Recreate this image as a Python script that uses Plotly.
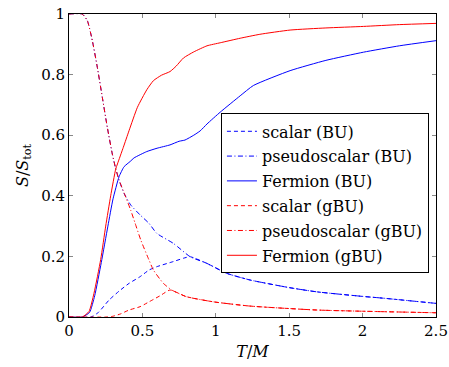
import plotly.graph_objects as go

# Fermion (gBU)
T_ferm_gbu = [0, 0.09, 0.136, 0.17, 0.216, 0.25, 0.284, 0.318, 0.33, 0.37, 0.409, 0.466, 0.53, 0.575,
              0.63, 0.688, 0.73, 0.78, 0.85, 0.94, 1.03, 1.166, 1.3, 1.506, 1.75, 2.006, 2.25, 2.5]
S_ferm_gbu = [0, 0, 0.018, 0.078, 0.19, 0.30, 0.40, 0.488, 0.505, 0.56, 0.615, 0.692, 0.75, 0.78,
              0.798, 0.81, 0.828, 0.855, 0.875, 0.895, 0.905, 0.92, 0.933, 0.947, 0.954, 0.959, 0.965, 0.969]

# Fermion (BU)
T_ferm_bu = [0, 0.09, 0.14, 0.175, 0.22, 0.265, 0.30, 0.341, 0.375, 0.416, 0.443, 0.53, 0.6, 0.688,
             0.75, 0.79, 0.85, 0.893, 0.94, 1.03, 1.166, 1.256, 1.506, 1.75, 2.006, 2.25, 2.5]
S_ferm_bu = [0, 0, 0.015, 0.07, 0.18, 0.30, 0.39, 0.463, 0.496, 0.513, 0.525, 0.546, 0.557, 0.568,
             0.58, 0.584, 0.60, 0.614, 0.637, 0.676, 0.73, 0.764, 0.813, 0.847, 0.874, 0.895, 0.912]

# pseudoscalar (BU)
T_ps_bu = [0, 0.09, 0.125, 0.159, 0.193, 0.227, 0.261, 0.295, 0.318, 0.341, 0.375, 0.42, 0.484, 0.545,
           0.598, 0.711, 0.825, 0.939, 1.075, 1.234, 1.5, 1.688, 2.0, 2.143, 2.5]
S_ps_bu = [1, 1, 0.978, 0.912, 0.824, 0.725, 0.626, 0.538, 0.49, 0.452, 0.408, 0.37, 0.337, 0.309,
           0.276, 0.243, 0.199, 0.177, 0.144, 0.122, 0.097, 0.083, 0.068, 0.062, 0.045]

# scalar (BU)
T_s_bu = [0, 0.15, 0.2, 0.273, 0.34, 0.409, 0.484, 0.545, 0.598, 0.711, 0.78, 0.825, 0.939, 1.075,
          1.234, 1.5, 1.688, 2.0, 2.143, 2.5]
S_s_bu = [0, 0, 0.015, 0.056, 0.085, 0.111, 0.133, 0.155, 0.166, 0.183, 0.194, 0.199, 0.177, 0.144,
          0.122, 0.097, 0.083, 0.068, 0.062, 0.045]

# pseudoscalar (gBU)
T_ps_gbu = [0, 0.09, 0.125, 0.159, 0.193, 0.227, 0.261, 0.295, 0.318, 0.341, 0.375, 0.42, 0.45, 0.489,
            0.545, 0.575, 0.643, 0.70, 0.80, 0.984, 1.234, 1.688, 2.0, 2.5]
S_ps_gbu = [1, 1, 0.978, 0.912, 0.824, 0.725, 0.626, 0.538, 0.49, 0.452, 0.41, 0.353, 0.31, 0.254,
            0.188, 0.155, 0.111, 0.089, 0.067, 0.05, 0.036, 0.023, 0.019, 0.014]

# scalar (gBU)
T_s_gbu = [0, 0.25, 0.295, 0.35, 0.409, 0.484, 0.545, 0.575, 0.62, 0.688, 0.80, 0.984, 1.234, 1.688,
           2.0, 2.5]
S_s_gbu = [0, 0, 0.002, 0.01, 0.023, 0.034, 0.05, 0.058, 0.07, 0.089, 0.067, 0.05, 0.036, 0.023,
           0.019, 0.014]

x_ticks = [0, 0.5, 1, 1.5, 2, 2.5]
x_tick_text = ["0", "0.5", "1", "1.5", "2", "2.5"]
y_ticks = [0, 0.2, 0.4, 0.6, 0.8, 1]
y_tick_text = ["0", "0.2", "0.4", "0.6", "0.8", "1"]

BLUE = "#0000ff"
RED = "#ff0000"
DASH = "4px,3px"
DASHDOT = "5px,2.5px,1px,2.5px"

series = [
    ("scalar (BU)", T_s_bu, S_s_bu, BLUE, DASH),
    ("pseudoscalar (BU)", T_ps_bu, S_ps_bu, BLUE, DASHDOT),
    ("Fermion (BU)", T_ferm_bu, S_ferm_bu, BLUE, "solid"),
    ("scalar (gBU)", T_s_gbu, S_s_gbu, RED, DASH),
    ("pseudoscalar (gBU)", T_ps_gbu, S_ps_gbu, RED, DASHDOT),
    ("Fermion (gBU)", T_ferm_gbu, S_ferm_gbu, RED, "solid"),
]

fig = go.Figure()
for i, (name, t, s, c, d) in enumerate(series):
    fig.add_trace(go.Scatter(x=t, y=s, mode="lines", name=name, legendgroup=f"g{i}",
                             line=dict(color=c, width=1, dash=d, shape="spline", smoothing=0.5)))

FONT = "DejaVu Serif"
fig.update_layout(
    template="none",
    width=449, height=367,
    margin=dict(l=69, r=13, t=14, b=50, autoexpand=False),
    paper_bgcolor="white", plot_bgcolor="white",
    font=dict(family=FONT, size=15, color="black"),
    showlegend=True,
    legend=dict(x=0.414, y=0.672, xanchor="left", yanchor="top",
                bordercolor="black", borderwidth=1, bgcolor="white",
                font=dict(family=FONT, size=16), tracegroupgap=1),
    xaxis=dict(range=[0, 2.5], tickvals=x_ticks, ticktext=x_tick_text, automargin=False,
               ticks="inside", ticklen=4, tickcolor="#888", mirror="allticks",
               showline=True, linecolor="black", linewidth=1, showgrid=False, zeroline=False,
               title=dict(text="<i>T</i>/<i>M</i>", standoff=6, font=dict(family=FONT, size=16)),
               tickfont=dict(family=FONT, size=15)),
    yaxis=dict(range=[0, 1], tickvals=y_ticks, ticktext=y_tick_text, automargin=False,
               ticks="inside", ticklen=4, tickcolor="#888", mirror="allticks",
               showline=True, linecolor="black", linewidth=1, showgrid=False, zeroline=False,
               title=dict(text="<i>S</i>/<i>S</i><sub>tot</sub>", standoff=8, font=dict(family=FONT, size=16)),
               tickfont=dict(family=FONT, size=15)),
)

fig.write_html("out.html", config={"displayModeBar": False},
               post_script="document.body.style.margin='0';")
